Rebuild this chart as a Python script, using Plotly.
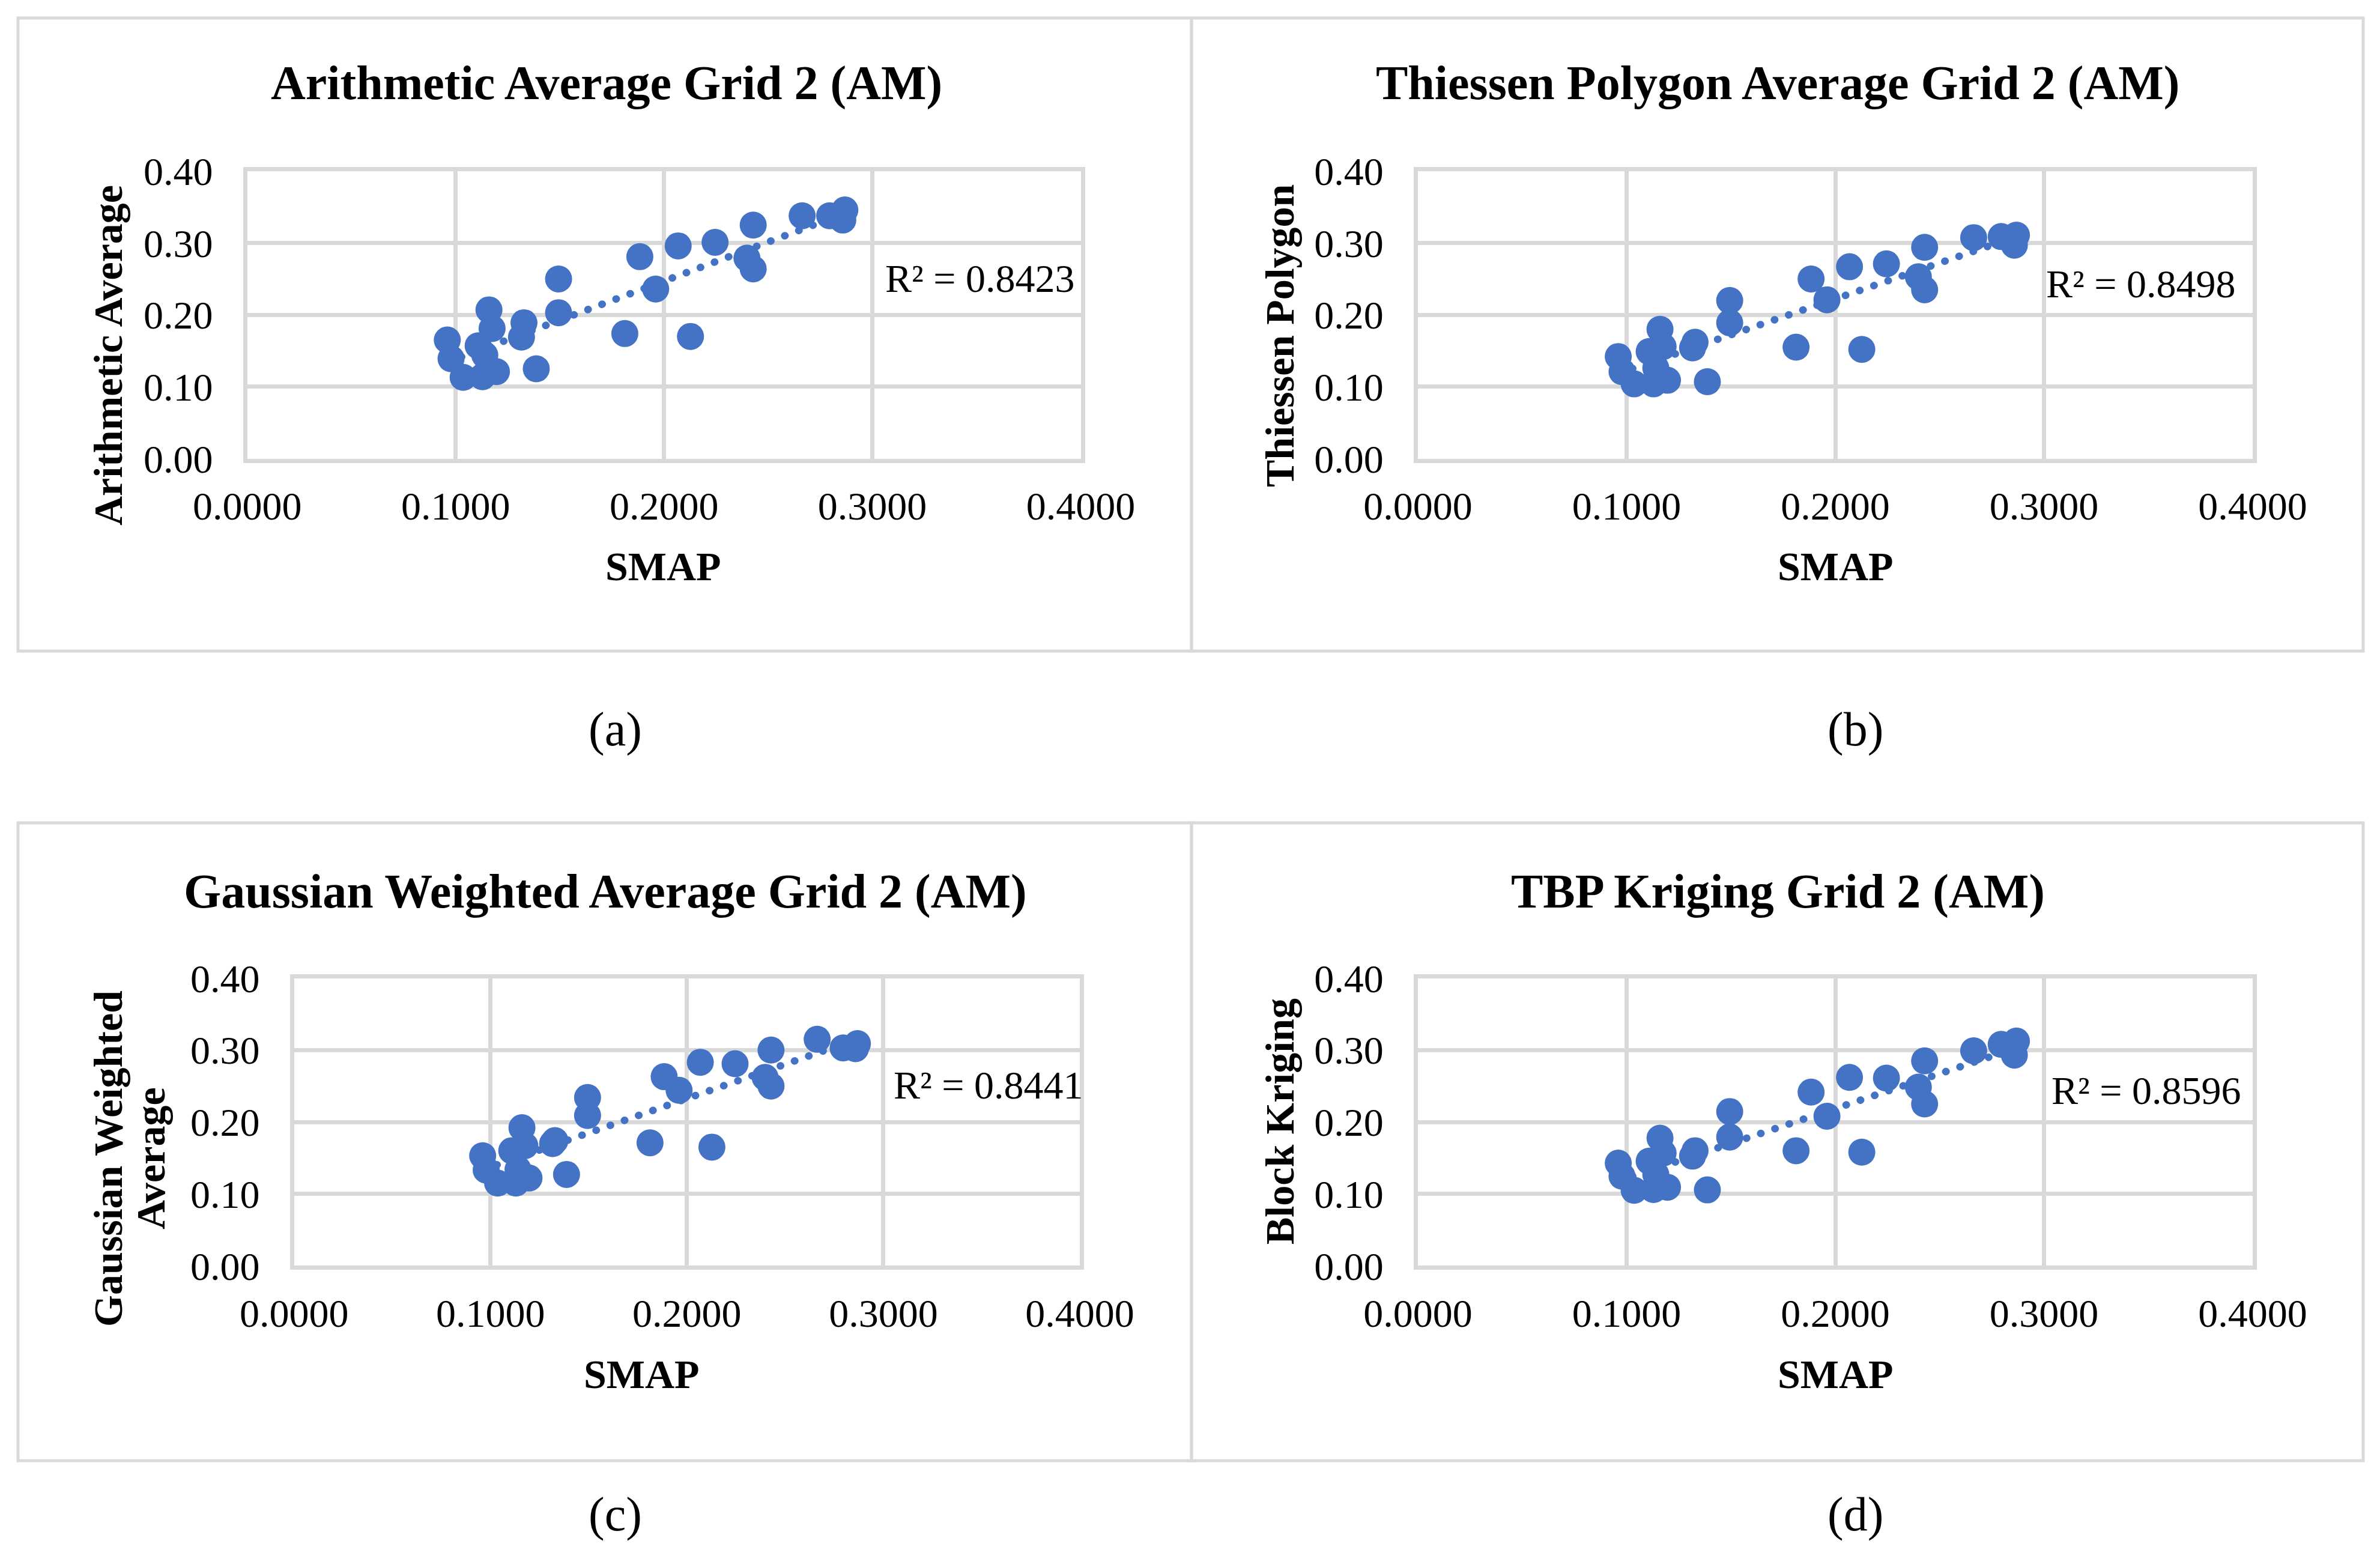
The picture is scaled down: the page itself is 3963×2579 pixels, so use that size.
import numpy as np
import plotly.graph_objects as go

# ---------------- data ----------------
smap = [0.2868, 0.2858, 0.2795, 0.2663, 0.2428, 0.2245, 0.2068, 0.1884, 0.2398, 0.2428,
        0.1960, 0.1494, 0.1494, 0.1812, 0.2127, 0.1387, 0.1328, 0.1316, 0.1160, 0.1175,
        0.0960, 0.0978, 0.1036, 0.1129, 0.1196, 0.1108, 0.1140]
arith = [0.346, 0.332, 0.338, 0.338, 0.325, 0.301, 0.296, 0.281, 0.279, 0.264,
         0.236, 0.250, 0.203, 0.174, 0.170, 0.125, 0.189, 0.169, 0.207, 0.181,
         0.165, 0.139, 0.113, 0.114, 0.121, 0.157, 0.144]
thiessen = [0.311, 0.297, 0.309, 0.3075, 0.294, 0.271, 0.267, 0.250, 0.253, 0.235,
            0.221, 0.220, 0.189, 0.155, 0.152, 0.107, 0.162, 0.154, 0.180, 0.156,
            0.142, 0.121, 0.104, 0.104, 0.109, 0.149, 0.126]
gauss = [0.309, 0.302, 0.303, 0.315, 0.300, 0.281, 0.283, 0.263, 0.262, 0.250,
         0.244, 0.234, 0.209, 0.171, 0.165, 0.127, 0.174, 0.170, 0.192, 0.167,
         0.153, 0.133, 0.115, 0.115, 0.122, 0.160, 0.134]
kriging = [0.3125, 0.293, 0.308, 0.299, 0.285, 0.261, 0.262, 0.2415, 0.2485, 0.225,
           0.208, 0.2145, 0.179, 0.160, 0.158, 0.1055, 0.160, 0.1525, 0.1775, 0.1567,
           0.1427, 0.1246, 0.105, 0.106, 0.1092, 0.1455, 0.127]

titles = ["Arithmetic Average Grid 2 (AM)", "Thiessen Polygon Average Grid 2 (AM)",
          "Gaussian Weighted Average Grid 2 (AM)", "TBP Kriging Grid 2 (AM)"]
y_titles = [["Arithmetic Average"], ["Thiessen Polygon"],
            ["Gaussian Weighted", "Average"], ["Block Kriging"]]
x_title = "SMAP"
r2_labels = ["R² = 0.8423", "R² = 0.8498", "R² = 0.8441", "R² = 0.8596"]
sub_labels = ["(a)", "(b)", "(c)", "(d)"]
series = [arith, thiessen, gauss, kriging]

# ---------------- layout geometry (pixels) ----------------
W, H = 3963, 2579
def fx(p): return p / W
def fy(p): return 1 - p / H

geo = [
    dict(xd=(411.7, 1799.6), yd=(285.0, 763.5), title=(1010, 139), xt=(1104, 943),
         yt=[(180, 592)], r2=(1472, 463), lab=(1024, 1214)),
    dict(xd=(2361.0, 3751.0), yd=(285.0, 763.5), title=(2960, 139), xt=(3056, 943),
         yt=[(2131, 559)], r2=(3405, 473), lab=(3089, 1214)),
    dict(xd=(489.7, 1798.0), yd=(1628.6, 2107.4), title=(1008, 1484), xt=(1068, 2288),
         yt=[(180, 1929), (251, 1929)], r2=(1486, 1806), lab=(1024, 2521)),
    dict(xd=(2361.0, 3751.0), yd=(1628.6, 2107.4), title=(2960, 1484), xt=(3056, 2288),
         yt=[(2131, 1867)], r2=(3414, 1815), lab=(3089, 2521)),
]

FONT = "Liberation Serif, Times New Roman, serif"
BLUE = "#4472C4"
GRID = "#d9d9d9"

fig = go.Figure()
annotations = []
shapes = []
layout_axes = {}

for i, (ys, g) in enumerate(zip(series, geo)):
    n = "" if i == 0 else str(i + 1)
    xa, ya = "x" + n, "y" + n
    fig.add_trace(go.Scatter(x=smap, y=ys, mode="markers", xaxis=xa, yaxis=ya,
                             marker=dict(size=45, color=BLUE, line=dict(width=0)),
                             showlegend=False, hoverinfo="skip"))
    # linear trendline from the data (least squares)
    k, b = np.polyfit(np.array(smap), np.array(ys), 1)
    xl = np.array([min(smap), max(smap)])
    fig.add_trace(go.Scatter(x=xl, y=k * xl + b, mode="lines", xaxis=xa, yaxis=ya,
                             uid="trend%d" % i,
                             line=dict(color=BLUE, width=12.5, dash="dot"),
                             showlegend=False, hoverinfo="skip"))

    common = dict(range=[0, 0.4], dtick=0.1, tick0=0, showgrid=True, gridcolor=GRID,
                  gridwidth=7, showline=True, mirror=True, linecolor=GRID, linewidth=7,
                  zeroline=False, ticks="outside", tickcolor="rgba(0,0,0,0)",
                  automargin=False,
                  tickfont=dict(family=FONT, size=66, color="black"), fixedrange=True)
    layout_axes["xaxis" + n] = dict(common, domain=[fx(g["xd"][0]), fx(g["xd"][1])],
                                    anchor=ya, tickformat=".4f", ticklen=15)
    layout_axes["yaxis" + n] = dict(common, domain=[fy(g["yd"][1]), fy(g["yd"][0])],
                                    anchor=xa, tickformat=".2f", ticklen=37)

    annotations.append(dict(text=titles[i], x=fx(g["title"][0]), y=fy(g["title"][1]),
                            xref="paper", yref="paper", showarrow=False,
                            xanchor="center", yanchor="middle",
                            font=dict(family=FONT, size=80, color="black", weight="bold")))
    annotations.append(dict(text=x_title, x=fx(g["xt"][0]), y=fy(g["xt"][1]),
                            xref="paper", yref="paper", showarrow=False,
                            xanchor="center", yanchor="middle",
                            font=dict(family=FONT, size=68, color="black", weight="bold")))
    for txt, (px, py) in zip(y_titles[i], g["yt"]):
        annotations.append(dict(text=txt, x=fx(px), y=fy(py), xref="paper", yref="paper",
                                showarrow=False, textangle=-90,
                                xanchor="center", yanchor="middle",
                                font=dict(family=FONT, size=68, color="black", weight="bold")))
    annotations.append(dict(text=r2_labels[i], x=fx(g["r2"][0]), y=fy(g["r2"][1]),
                            xref="paper", yref="paper", showarrow=False,
                            xanchor="left", yanchor="middle",
                            font=dict(family=FONT, size=66, color="black")))
    annotations.append(dict(text=sub_labels[i], x=fx(g["lab"][0]), y=fy(g["lab"][1]),
                            xref="paper", yref="paper", showarrow=False,
                            xanchor="center", yanchor="middle",
                            font=dict(family=FONT, size=80, color="black")))

# chart-area frames
for (x0, y0, x1, y1) in [(30, 30, 1984, 1084), (1984, 30, 3935, 1084),
                         (30, 1370, 1984, 2432), (1984, 1370, 3935, 2432)]:
    shapes.append(dict(type="rect", xref="paper", yref="paper",
                       x0=fx(x0), x1=fx(x1), y0=fy(y1), y1=fy(y0),
                       line=dict(color=GRID, width=5), fillcolor="rgba(0,0,0,0)",
                       layer="below"))

fig.update_layout(width=W, height=H, autosize=False,
                  margin=dict(l=0, r=0, t=0, b=0, pad=0, autoexpand=False),
                  paper_bgcolor="white", plot_bgcolor="white",
                  annotations=annotations, shapes=shapes, **layout_axes)

post = """
var s = document.createElement('style');
s.textContent = 'body{margin:0;overflow:hidden;} g[class*="tracetrend"] path.js-line{stroke-linecap:round !important;stroke-dasharray:0.5px 24.5px !important;}';
document.head.appendChild(s);
"""
fig.write_html("out.html", post_script=post, config={"displayModeBar": False})
